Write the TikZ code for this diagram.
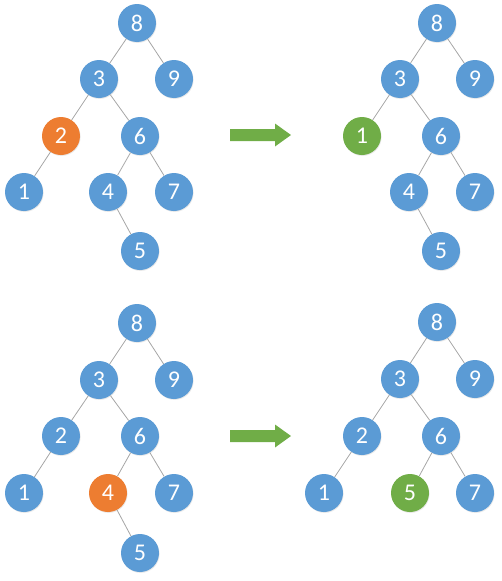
\documentclass[tikz,border=0pt]{standalone}
\usepackage{fontspec}
\setmainfont{Carlito}
\usetikzlibrary{shadows}
\definecolor{nodeblue}{HTML}{5B9BD5}
\definecolor{nodeorange}{HTML}{ED7D31}
\definecolor{nodegreen}{HTML}{70AD47}
\definecolor{edgegray}{HTML}{A6A6A6}
\tikzset{
  key/.style={circle, fill=nodeblue, minimum size=38pt, inner sep=0pt,
    text=white, font=\fontsize{24}{28}\selectfont,
    drop shadow={opacity=0.18, shadow xshift=0.6pt, shadow yshift=-0.9pt}},
  removed/.style={key, fill=nodeorange},
  moved/.style={key, fill=nodegreen},
  link/.style={draw=edgegray, line width=0.8pt}
}
\begin{document}
\begin{tikzpicture}[x=1pt,y=-1pt]
  \useasboundingbox (0,0) rectangle (501,581);
  % before, top
  \node[key] (a8) at (137,23) {8};
  \node[key] (a3) at (99,79) {3};
  \node[key] (a9) at (174,79) {9};
  \node[removed] (a2) at (61,136) {2};
  \node[key] (a6) at (140,136) {6};
  \node[key] (a1) at (24,192) {1};
  \node[key] (a4) at (108,192) {4};
  \node[key] (a7) at (174,192) {7};
  \node[key] (a5) at (140,251) {5};
  % after, top
  \node[key] (b8) at (437,23) {8};
  \node[key] (b3) at (400,79) {3};
  \node[key] (b9) at (475,79) {9};
  \node[moved] (b1) at (362,136) {1};
  \node[key] (b6) at (441,136) {6};
  \node[key] (b4) at (409,192) {4};
  \node[key] (b7) at (475,192) {7};
  \node[key] (b5) at (441,251) {5};
  % before, bottom
  \node[key] (c8) at (137,323) {8};
  \node[key] (c3) at (99,380) {3};
  \node[key] (c9) at (174,380) {9};
  \node[key] (c2) at (61,436) {2};
  \node[key] (c6) at (140,436) {6};
  \node[key] (c1) at (24,493) {1};
  \node[removed] (c4) at (108,493) {4};
  \node[key] (c7) at (174,493) {7};
  \node[key] (c5) at (140,553) {5};
  % after, bottom
  \node[key] (d8) at (437,322) {8};
  \node[key] (d3) at (400,379) {3};
  \node[key] (d9) at (475,379) {9};
  \node[key] (d2) at (362,436) {2};
  \node[key] (d6) at (441,436) {6};
  \node[key] (d1) at (324,493) {1};
  \node[moved] (d5) at (410,493) {5};
  \node[key] (d7) at (475,493) {7};
  % links
  \foreach \p/\c in {a8/a3, a8/a9, a3/a2, a3/a6, a2/a1, a6/a4, a6/a7, a4/a5,
                     b8/b3, b8/b9, b3/b1, b3/b6, b6/b4, b6/b7, b4/b5,
                     c8/c3, c8/c9, c3/c2, c3/c6, c2/c1, c6/c4, c6/c7, c4/c5,
                     d8/d3, d8/d9, d3/d2, d3/d6, d2/d1, d6/d5, d6/d7}
    \draw[link] (\p) -- (\c);
  % arrows
  \foreach \y in {135,436}
    \fill[nodegreen] (230,\y-6) -- (275,\y-6) -- (275,\y-11.5) -- (291,\y)
      -- (275,\y+11.5) -- (275,\y+6) -- (230,\y+6) -- cycle;
\end{tikzpicture}
\end{document}
